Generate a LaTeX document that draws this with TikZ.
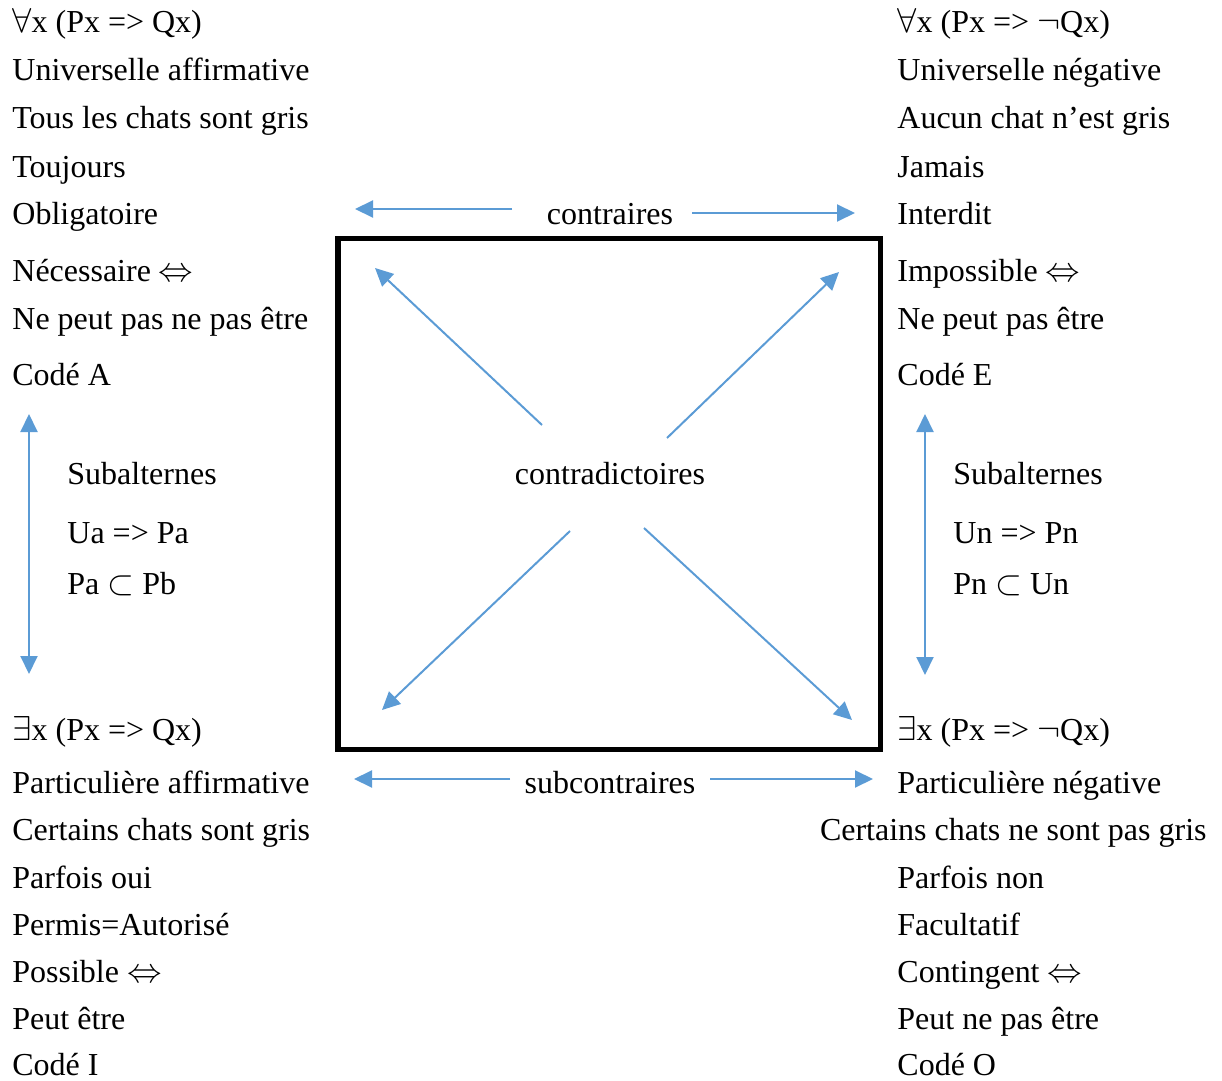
\documentclass[tikz,border=0pt]{standalone}
\usepackage{fontspec}
\setmainfont{Liberation Serif}
\usetikzlibrary{arrows.meta}

\definecolor{arrowblue}{HTML}{5B9BD5}

\tikzset{
  lbl/.style={anchor=base west, inner sep=0pt, font=\fontsize{16}{19}\selectfont},
  midlbl/.style={anchor=base, inner sep=0pt, font=\fontsize{16}{19}\selectfont},
  bluearrow/.style={draw=arrowblue, line width=1pt, -{Triangle[length=9pt,width=8.5pt]}},
  bluedouble/.style={draw=arrowblue, line width=1pt, {Triangle[length=9pt,width=8.5pt]}-{Triangle[length=9pt,width=8.5pt]}},
}

\begin{document}
\begin{tikzpicture}[x=0.5pt, y=-0.5pt]
    \useasboundingbox (0,0) rectangle (1222,1081);

    % The square of oppositions
    \draw[line width=2.6pt] (338,238.5) rectangle (880.5,749.5);

    % Corner A (top left)
    \foreach \t/\y [count=\i] in {{$\forall$x (Px => Qx)}/33, {Universelle affirmative}/81,
        {Tous les chats sont gris}/129, {Toujours}/177, {Obligatoire}/225,
        {Nécessaire $\Leftrightarrow$}/281, {Ne peut pas ne pas être}/329, {Codé A}/385}
        \node[lbl] (A\i) at (12,\y) {\t};

    % Corner E (top right)
    \foreach \t/\y [count=\i] in {{$\forall$x (Px => $\neg$Qx)}/33, {Universelle négative}/81,
        {Aucun chat n’est gris}/129, {Jamais}/177, {Interdit}/225,
        {Impossible $\Leftrightarrow$}/281, {Ne peut pas être}/329, {Codé E}/385}
        \node[lbl] (E\i) at (897,\y) {\t};

    % Corner I (bottom left)
    \foreach \t/\y [count=\i] in {{$\exists$x (Px => Qx)}/740, {Particulière affirmative}/793,
        {Certains chats sont gris}/840, {Parfois oui}/888, {Permis=Autorisé}/935,
        {Possible $\Leftrightarrow$}/982, {Peut être}/1029, {Codé I}/1075}
        \node[lbl] (I\i) at (12,\y) {\t};

    % Corner O (bottom right)
    \foreach \t/\y [count=\i] in {{$\exists$x (Px => $\neg$Qx)}/740, {Particulière négative}/793}
        \node[lbl] (O\i) at (897,\y) {\t};
    % this one sticks out to the left
    \node[lbl, anchor=base east] (Olong) at (1207,840) {Certains chats ne sont pas gris};
    \foreach \t/\y [count=\i] in {{Parfois non}/888, {Facultatif}/935,
        {Contingent $\Leftrightarrow$}/982, {Peut ne pas être}/1029, {Codé O}/1075}
        \node[lbl] (Ob\i) at (897,\y) {\t};

    % Subalternes, both sides
    \foreach \x/\side/\a/\b in {67/L/{Ua => Pa}/{Pa $\subset$ Pb}, 953/R/{Un => Pn}/{Pn $\subset$ Un}} {
        \node[lbl] (sub\side) at (\x,484) {Subalternes};
        \node[lbl] (imp\side) at (\x,543) {\a};
        \node[lbl] (inc\side) at (\x,594) {\b};
    }

    % Middle labels
    \node[midlbl] (contraires) at (610,225) {contraires};
    \node[midlbl] (subcontraires) at (610,793) {subcontraires};
    \node[midlbl] (contradictoires) at (610,484) {contradictoires};

    % Arrow end points
    \coordinate (cL0) at (512,209);  \coordinate (cL1) at (355,209);
    \coordinate (cR0) at (692,213);  \coordinate (cR1) at (855,213);
    \coordinate (sL0) at (510,779);  \coordinate (sL1) at (354,779);
    \coordinate (sR0) at (710,779);  \coordinate (sR1) at (873,779);
    \coordinate (dA0) at (542,425);  \coordinate (dA1) at (375,268);
    \coordinate (dE0) at (667,438);  \coordinate (dE1) at (839,272);
    \coordinate (dI0) at (570,531);  \coordinate (dI1) at (382,710);
    \coordinate (dO0) at (644,528);  \coordinate (dO1) at (852,720);
    \coordinate (vL0) at (29,414);   \coordinate (vL1) at (29,674);
    \coordinate (vR0) at (925,414);  \coordinate (vR1) at (925,675);

    % Blue arrows
    \foreach \n in {cL, cR, sL, sR, dA, dE, dI, dO}
        \draw[bluearrow] (\n0) -- (\n1);
    \draw[bluedouble] (vL0) -- (vL1);
    \draw[bluedouble] (vR0) -- (vR1);
\end{tikzpicture}
\end{document}
